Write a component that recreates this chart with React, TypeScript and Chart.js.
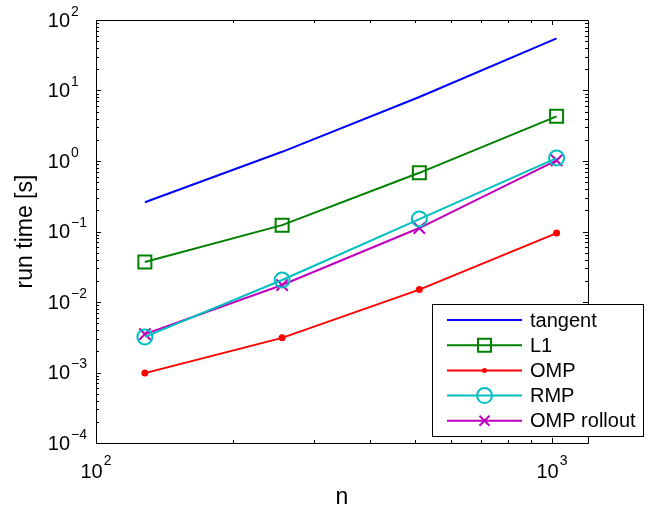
import React, { useEffect, useRef } from "react";
import { Chart, registerables } from "chart.js";
Chart.register(...registerables);

const nValues = [128, 256, 512, 1024];
const tangent = [0.26, 1.35, 8.1, 55];
const l1 = [0.037, 0.123, 0.68, 4.3];
const omp = [0.00098, 0.0031, 0.015, 0.095];
const rmp = [0.0032, 0.0205, 0.15, 1.1];
const ompRollout = [0.0035, 0.0174, 0.112, 1.02];
const seriesNames = ["tangent", "L1", "OMP", "RMP", "OMP rollout"];
const seriesColors = ["#0000ff", "#008000", "#ff0000", "#00bfbf", "#bf00bf"];
const seriesMarkers = ["none", "square", "dot", "circle", "x"];
const xTickExps = [2, 3];
const yTickExps = [-4, -3, -2, -1, 0, 1, 2];
const xTitle = "n";
const yTitle = "run time [s]";

const FONT = '"Liberation Sans", Arial, Helvetica, sans-serif';

function drawMarker(ctx: CanvasRenderingContext2D, kind: string, x: number, y: number, color: string) {
  ctx.save();
  ctx.strokeStyle = color;
  ctx.fillStyle = color;
  ctx.lineWidth = 2;
  ctx.beginPath();
  if (kind === "square") {
    ctx.rect(x - 6.5, y - 6.5, 13, 13);
    ctx.stroke();
  } else if (kind === "circle") {
    ctx.arc(x, y, 7.5, 0, Math.PI * 2);
    ctx.stroke();
  } else if (kind === "dot") {
    ctx.arc(x, y, 2.5, 0, Math.PI * 2);
    ctx.fill();
  } else if (kind === "x") {
    ctx.moveTo(x - 5, y - 5);
    ctx.lineTo(x + 5, y + 5);
    ctx.moveTo(x + 5, y - 5);
    ctx.lineTo(x - 5, y + 5);
    ctx.stroke();
  }
  ctx.restore();
}

const decorPlugin = {
  id: "decor",
  afterDatasetsDraw(chart: any) {
    const ctx: CanvasRenderingContext2D = chart.ctx;
    const { left, right, top, bottom } = chart.chartArea;
    const xs = chart.scales.x;
    const ys = chart.scales.y;
    ctx.save();
    // axes box
    ctx.strokeStyle = "#000";
    ctx.lineWidth = 1;
    ctx.beginPath();
    ctx.rect(Math.round(left) + 0.5, Math.round(top) + 0.5, Math.round(right - left), Math.round(bottom - top));
    ctx.stroke();

    const major = 5;
    const minor = 3;
    ctx.beginPath();
    for (const e of xTickExps) {
      for (let k = 1; k <= 9; k++) {
        const v = k * Math.pow(10, e);
        if (v < xs.min - 1e-9 || v > xs.max + 1e-9) continue;
        const px = Math.round(xs.getPixelForValue(v)) + 0.5;
        const len = k === 1 ? major : minor;
        ctx.moveTo(px, bottom);
        ctx.lineTo(px, bottom - len);
        ctx.moveTo(px, top);
        ctx.lineTo(px, top + len);
      }
    }
    for (const e of yTickExps) {
      for (let k = 1; k <= 9; k++) {
        const v = k * Math.pow(10, e);
        if (v < ys.min * 0.999 || v > ys.max * 1.001) continue;
        const py = Math.round(ys.getPixelForValue(v)) + 0.5;
        const len = k === 1 ? major : minor;
        ctx.moveTo(left, py);
        ctx.lineTo(left + len, py);
        ctx.moveTo(right, py);
        ctx.lineTo(right - len, py);
      }
    }
    ctx.stroke();

    // tick labels
    ctx.fillStyle = "#000";
    const baseFont = `20px ${FONT}`;
    const expFont = `14px ${FONT}`;
    ctx.textBaseline = "middle";
    for (const e of yTickExps) {
      const py = ys.getPixelForValue(Math.pow(10, e));
      const expStr = e < 0 ? "\u2212" + Math.abs(e) : String(e);
      const baseRight = left - 26;
      ctx.font = baseFont;
      ctx.textAlign = "right";
      ctx.fillText("10", baseRight, py + 1);
      ctx.font = expFont;
      ctx.textAlign = "left";
      ctx.fillText(expStr, baseRight + 1, py - 8);
    }
    for (const e of xTickExps) {
      const px = xs.getPixelForValue(Math.pow(10, e));
      const expStr = String(e);
      ctx.font = expFont;
      const ew = ctx.measureText(expStr).width;
      ctx.font = baseFont;
      const bw = ctx.measureText("10").width;
      const x0 = px - (bw + ew + 1) / 2;
      ctx.textAlign = "left";
      ctx.fillText("10", x0, bottom + 29);
      ctx.font = expFont;
      ctx.fillText(expStr, x0 + bw + 1, bottom + 18);
    }

    // titles
    ctx.font = `23px ${FONT}`;
    ctx.textAlign = "center";
    ctx.fillText(xTitle, (left + right) / 2, bottom + 55);
    ctx.save();
    ctx.translate(26, (top + bottom) / 2);
    ctx.rotate(-Math.PI / 2);
    ctx.fillText(yTitle, 0, 0);
    ctx.restore();

    // legend
    const lx = 432, ly = 304, lw = 211, lh = 132;
    ctx.fillStyle = "#fff";
    ctx.fillRect(lx, ly, lw, lh);
    ctx.strokeStyle = "#000";
    ctx.lineWidth = 1;
    ctx.strokeRect(lx + 0.5, ly + 0.5, lw, lh);
    ctx.font = `20px ${FONT}`;
    ctx.textAlign = "left";
    ctx.textBaseline = "middle";
    for (let i = 0; i < seriesNames.length; i++) {
      const ry = ly + 16 + i * 25.2;
      ctx.strokeStyle = seriesColors[i];
      ctx.lineWidth = 2;
      ctx.beginPath();
      ctx.moveTo(447, ry);
      ctx.lineTo(522, ry);
      ctx.stroke();
      drawMarker(ctx, seriesMarkers[i], 484.5, ry, seriesColors[i]);
      ctx.fillStyle = "#000";
      ctx.fillText(seriesNames[i], 530, ry + 1);
    }
    ctx.restore();
  },
};

function toPoints(vals: number[]) {
  return nValues.map((n, i) => ({ x: n, y: vals[i] }));
}

export default function App() {
  const ref = useRef<HTMLCanvasElement | null>(null);
  useEffect(() => {
    if (!ref.current) return;
    const all = [tangent, l1, omp, rmp, ompRollout];
    const styles: any[] = [
      { pointRadius: 0, pointStyle: "circle" },
      { pointRadius: 9.2, pointStyle: "rect", pointBackgroundColor: "transparent" },
      { pointRadius: 2.5, pointStyle: "circle", pointBackgroundColor: seriesColors[2] },
      { pointRadius: 7.5, pointStyle: "circle", pointBackgroundColor: "transparent" },
      { pointRadius: 8, pointStyle: "crossRot", pointBackgroundColor: "transparent" },
    ];
    const chart = new Chart(ref.current, {
      type: "line",
      data: {
        datasets: all.map((vals, i) => ({
          label: seriesNames[i],
          data: toPoints(vals),
          borderColor: seriesColors[i],
          pointBorderColor: seriesColors[i],
          borderWidth: 2,
          pointBorderWidth: 2,
          fill: false,
          tension: 0,
          ...styles[i],
        })),
      },
      options: {
        animation: false,
        responsive: false,
        devicePixelRatio: 1,
        layout: { padding: { top: 20, right: 66, left: 0, bottom: 0 } },
        plugins: { legend: { display: false }, tooltip: { enabled: false } },
        scales: {
          x: {
            type: "logarithmic",
            min: 100,
            max: 1200,
            grid: { display: false },
            border: { display: false },
            ticks: { display: false },
            afterFit: (s: any) => {
              s.height = 69;
            },
          },
          y: {
            type: "logarithmic",
            min: 1e-4,
            max: 100,
            grid: { display: false },
            border: { display: false },
            ticks: { display: false },
            afterFit: (s: any) => {
              s.width = 96;
            },
          },
        },
      } as any,
      plugins: [decorPlugin],
    });
    return () => chart.destroy();
  }, []);
  return (
    <div style={{ position: "absolute", left: 0, top: 0, width: 654, height: 512, background: "#fff" }}>
      <canvas ref={ref} width={654} height={512} />
    </div>
  );
}
